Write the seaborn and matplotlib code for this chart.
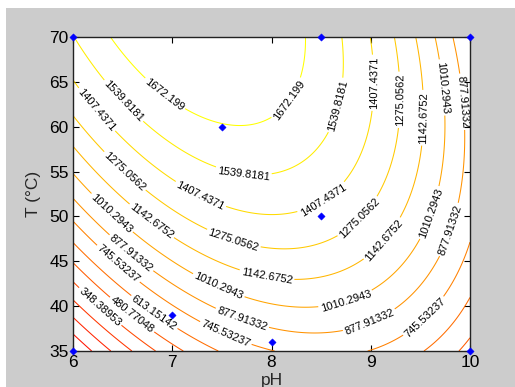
import numpy as np
import matplotlib
matplotlib.use("Agg")
import matplotlib.pyplot as plt
from matplotlib.patches import Rectangle
import seaborn as sns

# Quadratic response-surface model, coded around pH 8 and 50 °C:
# y = b0 + b_pH*x + b_T*u + b_pH2*x^2 + b_T2*u^2 + b_pH_T*x*u,  x = pH - 8, u = T - 50
coef_names = ["b0", "b_pH", "b_T", "b_pH2", "b_T2", "b_pH_T"]
coef_values = [1400.7, 3.5, 32.8, -155.0, -0.746, -10.1]
centre_ph = 8.0
centre_temp = 50.0

ph_range = [6, 10]
temp_range = [35, 70]
ph_ticks = [6, 7, 8, 9, 10]
temp_ticks = [35, 40, 45, 50, 55, 60, 65, 70]

contour_levels = [-181.13427, -48.753316, 83.627634, 216.00858, 348.38953,
                  480.77048, 613.15142, 745.53237, 877.91332, 1010.2943,
                  1142.6752, 1275.0562, 1407.4371, 1539.8181, 1672.199]

# experimental design points
design_ph = [6, 8.5, 10, 7.5, 8.5, 7, 8, 6, 10]
design_temp = [70, 70, 70, 60, 50, 39, 36, 35, 35]

# where the contour values are written (pH, T)
label_spots = [(6.97, 64.3), (8.10, 63.6), (6.54, 63.2), (7.73, 55.8), (8.62, 62.5),
               (6.26, 62.1), (8.49, 52.3), (7.33, 53.4), (9.00, 64.9),
               (6.55, 55.4), (7.64, 48.2), (8.85, 50.2), (9.26, 63.0),
               (6.80, 49.6), (7.96, 43.8), (9.11, 47.6), (9.51, 61.0),
               (6.41, 50.6), (7.48, 42.6), (8.74, 40.9), (9.60, 50.4), (9.74, 64.4),
               (6.60, 46.1), (8.98, 38.5), (7.71, 38.8), (9.80, 48.5), (9.94, 62.8),
               (6.47, 44.9), (7.54, 37.0), (9.55, 38.7),
               (6.83, 39.5), (6.57, 38.7), (6.27, 39.9)]

sns.set_style("ticks")
plt.rcParams["font.family"] = ["Liberation Sans", "DejaVu Sans"]

b = dict(zip(coef_names, coef_values))
ph_grid = np.linspace(ph_range[0], ph_range[1], 300)
temp_grid = np.linspace(temp_range[0], temp_range[1], 300)
PH, TT = np.meshgrid(ph_grid, temp_grid)
X = PH - centre_ph
U = TT - centre_temp
Z = (b["b0"] + b["b_pH"] * X + b["b_T"] * U + b["b_pH2"] * X ** 2
     + b["b_T2"] * U ** 2 + b["b_pH_T"] * X * U)

fig = plt.figure(figsize=(5.15, 3.87), dpi=100, facecolor="white")
fig.add_artist(Rectangle((6 / 515, 0), 1, 1 - 8 / 387, transform=fig.transFigure,
                         facecolor="#cccccc", edgecolor="none", zorder=-5))
ax = fig.add_axes([73 / 515, 1 - 351 / 387, 397 / 515, 314 / 387])
ax.set_facecolor("white")

cs = ax.contour(PH, TT, Z, levels=contour_levels, cmap="autumn", linewidths=0.75)
ax.clabel(cs, inline=True, fmt="%.8g", fontsize=8,
          colors="black", manual=label_spots, inline_spacing=2)

sns.scatterplot(x=design_ph, y=design_temp, marker="D", color="blue",
                edgecolor="blue", s=14, ax=ax, zorder=5, clip_on=False, legend=False)

ax.set_xlim(*ph_range)
ax.set_ylim(*temp_range)
ax.set_xticks(ph_ticks)
ax.set_yticks(temp_ticks)
ax.tick_params(direction="in", length=4, width=0.8, labelsize=12.5, pad=3,
               top=True, right=True, colors="black")
for sp in ax.spines.values():
    sp.set_visible(True)
    sp.set_linewidth(1.0)
    sp.set_color("#222222")
ax.set_xlabel("pH", fontsize=12.5, labelpad=2)
ax.set_ylabel("T (°C)", fontsize=12.5, labelpad=6)

fig.savefig("out.png", dpi=100, facecolor=fig.get_facecolor())
